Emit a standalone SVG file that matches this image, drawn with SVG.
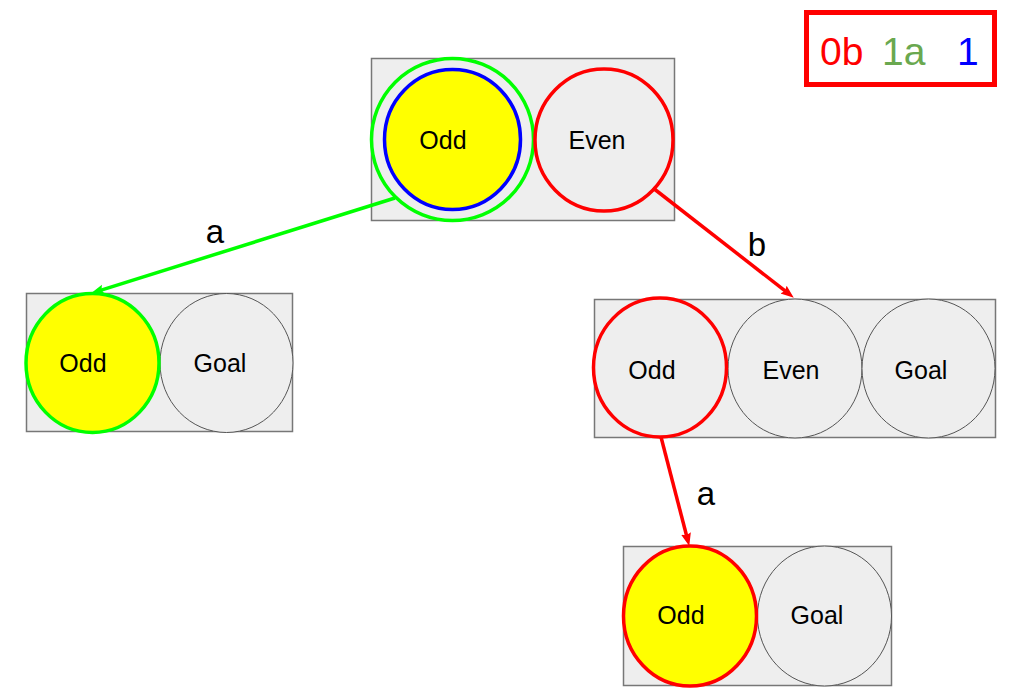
<svg xmlns="http://www.w3.org/2000/svg" width="1016" height="700" viewBox="0 0 1016 700">
<style>
.box{fill:#eeeeee;stroke:#777777;stroke-width:1.5}
.st{fill:#eeeeee;stroke:#555555;stroke-width:1}
.lbl{font-family:"Liberation Sans",Arial,sans-serif;font-size:25px;fill:#000;text-anchor:middle}
.elbl{font-family:"Liberation Sans",Arial,sans-serif;font-size:33px;fill:#000;text-anchor:middle}
.leg{font-family:"Liberation Sans",Arial,sans-serif;font-size:39px}
.g{stroke:#00ff00;stroke-width:3.5;fill:none}
.r{stroke:#ff0000;stroke-width:3.5;fill:none}
</style>
<defs>
<marker id="ag" markerUnits="userSpaceOnUse" markerWidth="14" markerHeight="12" refX="4" refY="5" orient="auto"><path d="M0,0 L13,5 L0,10 L2,5 z" fill="#00ff00"/></marker>
<marker id="ar" markerUnits="userSpaceOnUse" markerWidth="14" markerHeight="12" refX="4" refY="5" orient="auto"><path d="M0,0 L13,5 L0,10 L2,5 z" fill="#ff0000"/></marker>
</defs>
<rect width="1016" height="700" fill="#ffffff"/>
<g id="legend">
<rect x="806.5" y="12.5" width="188" height="72" fill="#ffffff" stroke="#ff0000" stroke-width="5"/>
<text class="leg" x="820" y="65" fill="#ff0000">0b</text>
<text class="leg" x="882" y="65" fill="#6aa84f">1a</text>
<text class="leg" x="957" y="65" fill="#0000ff">1</text>
</g>
<g id="node-root">
<rect class="box" x="371.5" y="58.5" width="303" height="162"/>
<circle cx="452.5" cy="139.5" r="81" fill="#eeeeee" stroke="#00ff00" stroke-width="3.5"/>
<ellipse cx="452.5" cy="139.5" rx="68" ry="70" fill="#ffff00" stroke="#0000ff" stroke-width="3.5"/>
<ellipse cx="604" cy="140" rx="69" ry="71" fill="#eeeeee" stroke="#ff0000" stroke-width="3.5"/>
<text class="lbl" x="443" y="149">Odd</text>
<text class="lbl" x="597" y="149">Even</text>
</g>
<g id="node-a">
<rect class="box" x="26.5" y="293.5" width="266" height="138"/>
<ellipse class="st" cx="226.5" cy="363" rx="66.5" ry="69.5"/>
<ellipse cx="92.5" cy="363" rx="66.5" ry="69.5" fill="#ffff00" stroke="#00ff00" stroke-width="3.5"/>
<text class="lbl" x="83" y="372">Odd</text>
<text class="lbl" x="220" y="372">Goal</text>
</g>
<g id="node-b">
<rect class="box" x="594.5" y="299.5" width="401" height="138"/>
<ellipse class="st" cx="795" cy="368.5" rx="67" ry="69.5"/>
<ellipse class="st" cx="928.5" cy="368.5" rx="66.5" ry="69.5"/>
<ellipse cx="660" cy="367.5" rx="66.5" ry="69.5" fill="#eeeeee" stroke="#ff0000" stroke-width="3.5"/>
<text class="lbl" x="652" y="379">Odd</text>
<text class="lbl" x="791" y="379">Even</text>
<text class="lbl" x="921" y="379">Goal</text>
</g>
<g id="node-ba">
<rect class="box" x="623.5" y="546.5" width="268" height="139"/>
<ellipse class="st" cx="824.5" cy="616" rx="67" ry="70"/>
<ellipse cx="690" cy="616" rx="66.5" ry="70" fill="#ffff00" stroke="#ff0000" stroke-width="3.5"/>
<text class="lbl" x="681" y="624">Odd</text>
<text class="lbl" x="817" y="624">Goal</text>
</g>
<g id="connectors">
<line class="g" x1="395" y1="198" x2="99.6" y2="290.6" marker-end="url(#ag)"/>
<line class="r" x1="653" y1="188" x2="786.7" y2="292.1" marker-end="url(#ar)"/>
<line class="r" x1="661" y1="437" x2="687" y2="537.3" marker-end="url(#ar)"/>
<text class="elbl" x="215" y="243">a</text>
<text class="elbl" x="757" y="256">b</text>
<text class="elbl" x="706" y="505">a</text>
</g>
</svg>
